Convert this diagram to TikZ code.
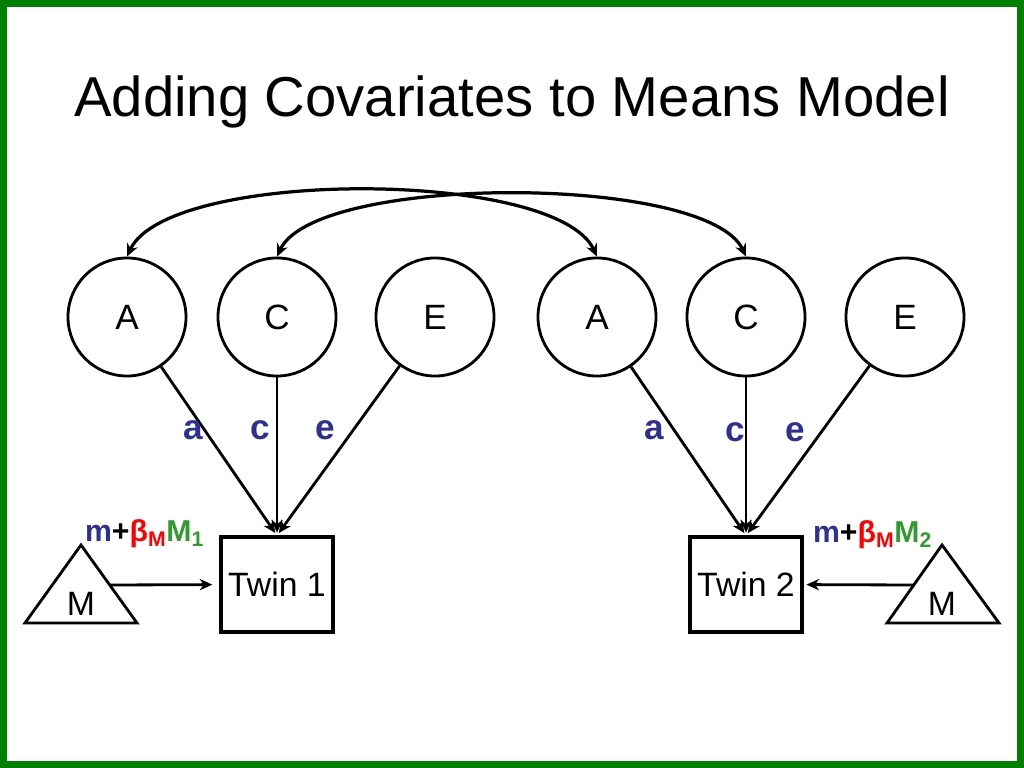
\documentclass[tikz,border=0pt]{standalone}
\usepackage{fontspec}
\setmainfont{Liberation Sans}
\usetikzlibrary{arrows.meta,positioning}
\definecolor{framegreen}{RGB}{0,128,0}
\definecolor{pathblue}{RGB}{46,49,146}
\definecolor{betared}{RGB}{255,0,0}
\definecolor{covgreen}{RGB}{51,153,51}
\newcommand{\covlabel}[1]{\textbf{{\color{pathblue}m}+{\color{betared}β\textsubscript{M}}{\color{covgreen}M\textsubscript{#1}}}}

\begin{document}
\begin{tikzpicture}[x=0.025cm,y=0.025cm,shorten >=2pt,>={Stealth[length=9pt,width=8pt]},line width=2pt,
    latent/.style={circle,draw,minimum size=2.95cm,inner sep=0pt,font=\fontsize{25}{30}\selectfont},
    twin/.style={rectangle,draw,line width=2.3pt,minimum width=2.8cm,minimum height=2.375cm,font=\fontsize{24}{29}\selectfont},
    pathlabel/.style={text=pathblue,font=\fontsize{25}{30}\selectfont\bfseries}]
    \useasboundingbox (0,0) rectangle (1024,768);
    \draw[framegreen,line width=0.175cm] (3.5,3.5) rectangle (1020.5,764.5);
    \node[anchor=base,font=\fontsize{40}{48}\selectfont] (title) at (512,651) {Adding Covariates to Means Model};
    % latent factors
    \foreach \n/\x/\t in {A1/127/A,C1/277/C,E1/435/E,A2/597/A,C2/746/C,E2/905/E}
        \node[latent] (\n) at (\x,451) {\t};
    \node[twin,below=3.95cm of C1] (T1) {Twin 1};
    \node[twin,below=3.95cm of C2] (T2) {Twin 2};
    \foreach \i in {1,2}
        \foreach \f in {A,C,E}
            \draw[->] (\f\i) -- (T\i.north);
    \foreach \t/\x/\y in {a/193/338,c/260/338,e/325/338,a/654/338,c/735/336,e/795/336}
        \node[pathlabel] (l\x) at (\x,\y) {\t};
    % correlations between twins
    \draw[<->,shorten >=0pt,line width=2.3pt] (A1.north) to[out=65,in=115,looseness=0.53] (A2.north);
    \draw[<->,shorten >=0pt,line width=2.3pt] (C1.north) to[out=65,in=115,looseness=0.5] (C2.north);
    % means
    \draw (25,145) -- (137,145) -- coordinate[pos=0.487] (M1out) (81,223) -- cycle;
    \draw (999,145) -- (887,145) -- coordinate[pos=0.487] (M2out) (942,223) -- cycle;
    \node[font=\fontsize{24}{29}\selectfont] (m1) at (81,164) {M};
    \node[font=\fontsize{24}{29}\selectfont] (m2) at (942,164) {M};
    \draw[->,shorten >=5pt] (M1out) -- (T1.west);
    \draw[->] (M2out) -- (T2.east);
    \node[anchor=base west,font=\fontsize{21.5}{26}\selectfont] (f1) at (79,226) {\covlabel{1}};
    \node[anchor=base west,font=\fontsize{21.5}{26}\selectfont] (f2) at (807,225) {\covlabel{2}};
\end{tikzpicture}
\end{document}
